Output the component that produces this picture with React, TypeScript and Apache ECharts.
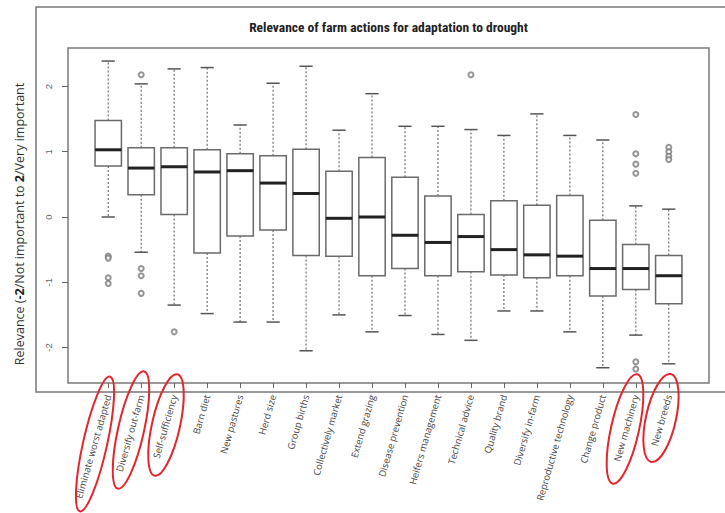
import React, { useEffect, useRef } from "react";
import * as echarts from "echarts";

const categories = [
  "Eliminate worst adapted",
  "Diversify out-farm",
  "Self-sufficiency",
  "Barn diet",
  "New pastures",
  "Herd size",
  "Group births",
  "Collectively market",
  "Extend grazing",
  "Disease prevention",
  "Heifers management",
  "Technical advice",
  "Quality brand",
  "Diversify in-farm",
  "Reproductive technology",
  "Change product",
  "New machinery",
  "New breeds",
];

const lowerWhisker = [0.0, -0.54, -1.35, -1.48, -1.61, -1.61, -2.05, -1.5, -1.76, -1.51, -1.8, -1.89, -1.44, -1.44, -1.76, -2.31, -1.81, -2.25];
const quartile1 = [0.78, 0.34, 0.04, -0.55, -0.29, -0.2, -0.59, -0.6, -0.9, -0.79, -0.9, -0.84, -0.89, -0.93, -0.9, -1.21, -1.11, -1.33];
const medians = [1.03, 0.75, 0.77, 0.69, 0.71, 0.52, 0.36, -0.02, 0.0, -0.28, -0.39, -0.3, -0.5, -0.58, -0.6, -0.79, -0.79, -0.9];
const quartile3 = [1.48, 1.06, 1.06, 1.03, 0.97, 0.94, 1.04, 0.7, 0.91, 0.61, 0.32, 0.04, 0.25, 0.18, 0.33, -0.05, -0.42, -0.59];
const upperWhisker = [2.39, 2.04, 2.27, 2.29, 1.41, 2.05, 2.31, 1.33, 1.89, 1.39, 1.39, 1.34, 1.25, 1.58, 1.25, 1.18, 0.17, 0.12];

// [category index, value]
const outliers: [number, number][] = [
  [0, -0.6], [0, -0.63], [0, -0.93], [0, -1.02],
  [1, 2.18], [1, -0.79], [1, -0.9], [1, -1.17],
  [2, -1.76],
  [11, 2.18],
  [16, 1.57], [16, 0.97], [16, 0.81], [16, 0.67], [16, -2.22], [16, -2.33],
  [17, 1.07], [17, 1.0], [17, 0.93], [17, 0.88],
];

const yTicks = [-2, -1, 0, 1, 2];
const highlighted = [0, 1, 2, 16, 17];

const TITLE = "Relevance of farm actions for adaptation to drought";
const Y_TITLE = "Relevance ({b|-2}/Not important to {b|2}/Very important";

export default function App() {
  const ref = useRef<HTMLDivElement>(null);

  useEffect(() => {
    if (!ref.current) return;
    const chart = echarts.init(ref.current, null, { renderer: "svg" });
    const boxData = categories.map((_, i) => [
      i,
      lowerWhisker[i],
      quartile1[i],
      medians[i],
      quartile3[i],
      upperWhisker[i],
    ]);
    const catIdx = categories.map((_, i) => i);

    const ellipseSpec: Record<number, { cx: number; cy: number; rx: number; ry: number }> = {
      0: { cx: 95, cy: 444, rx: 12, ry: 69 },
      1: { cx: 131, cy: 430, rx: 13, ry: 60 },
      2: { cx: 166, cy: 425, rx: 14, ry: 52 },
      16: { cx: 625, cy: 429, rx: 14, ry: 56 },
      17: { cx: 661, cy: 418, rx: 15, ry: 45 },
    };

    const font = "Open Sans, Liberation Sans, sans-serif";

    chart.setOption({
      animation: false,
      backgroundColor: "#ffffff",
      grid: {
        left: 68,
        top: 48,
        right: 16,
        bottom: 130,
        show: true,
        borderColor: "#7a7a7a",
        borderWidth: 1.5,
        backgroundColor: "transparent",
      },
      xAxis: {
        type: "value",
        min: -1.22,
        max: 18.22,
        splitLine: { show: false },
        axisLine: { show: false, onZero: false },
        axisTick: {
          show: true,
          length: 5,
          customValues: catIdx,
          lineStyle: { color: "#666", width: 1 },
        },
        axisLabel: {
          customValues: catIdx,
          formatter: (v: number) => categories[Math.round(v)] ?? "",
          rotate: 74,
          margin: 12,
          fontSize: 9.5,
          color: "#444",
          fontFamily: font,
        },
      },
      yAxis: {
        type: "value",
        min: -2.544,
        max: 2.59,
        splitLine: { show: false },
        axisLine: { show: false, onZero: false },
        axisTick: {
          show: true,
          length: 6,
          customValues: yTicks,
          lineStyle: { color: "#666", width: 1 },
        },
        axisLabel: {
          customValues: yTicks,
          rotate: 90,
          margin: 15,
          fontSize: 9.5,
          color: "#666",
          fontFamily: "Liberation Sans, Arial, sans-serif",
        },
      },
      graphic: [
        {
          type: "polyline",
          silent: true,
          shape: { points: [[725, 7], [36, 7], [36, 392], [725, 392]] },
          style: { fill: "none", stroke: "#777", lineWidth: 1.5 },
        },
        {
          type: "text",
          x: 388.5,
          y: 26.5,
          style: {
            text: TITLE,
            fill: "#222",
            fontSize: 13.5,
            fontWeight: "bold",
            fontFamily: "Liberation Sans Narrow, Roboto Condensed, Liberation Sans, sans-serif",
            textAlign: "center",
            textVerticalAlign: "middle",
          },
        },
        {
          type: "text",
          x: 19,
          y: 224,
          rotation: Math.PI / 2,
          style: {
            text: Y_TITLE,
            fill: "#333",
            fontSize: 12.5,
            fontFamily: font,
            textAlign: "center",
            textVerticalAlign: "middle",
            rich: {
              b: { fontSize: 12.5, fontWeight: "bold", fill: "#222", fontFamily: font },
            },
          },
        },
        ...highlighted.map((i) => {
          const e = ellipseSpec[i];
          return {
            type: "ellipse",
            silent: true,
            x: e.cx,
            y: e.cy,
            rotation: -0.22,
            shape: { cx: 0, cy: 0, rx: e.rx, ry: e.ry },
            style: { fill: "none", stroke: "#e3262e", lineWidth: 2 },
            z: 100,
          };
        }),
      ],
      series: [
        {
          type: "custom",
          data: boxData,
          encode: { x: 0, y: [1, 2, 3, 4, 5] },
          renderItem: (params: any, api: any) => {
            const i = api.value(0);
            const lo = api.coord([i, api.value(1)]);
            const b1 = api.coord([i, api.value(2)]);
            const md = api.coord([i, api.value(3)]);
            const b3 = api.coord([i, api.value(4)]);
            const hi = api.coord([i, api.value(5)]);
            const unit = api.size([1, 0])[0];
            const hw = unit * 0.4;
            const cw = unit * 0.2;
            const cx = lo[0];
            const dash = { stroke: "#6e6e6e", lineWidth: 1.2, lineDash: [2, 2], fill: null };
            const cap = { stroke: "#555", lineWidth: 1.5, fill: null };
            return {
              type: "group",
              children: [
                { type: "line", shape: { x1: cx, y1: b3[1], x2: cx, y2: hi[1] }, style: dash },
                { type: "line", shape: { x1: cx, y1: b1[1], x2: cx, y2: lo[1] }, style: dash },
                { type: "line", shape: { x1: cx - cw, y1: hi[1], x2: cx + cw, y2: hi[1] }, style: cap },
                { type: "line", shape: { x1: cx - cw, y1: lo[1], x2: cx + cw, y2: lo[1] }, style: cap },
                {
                  type: "rect",
                  shape: { x: cx - hw, y: b3[1], width: 2 * hw, height: b1[1] - b3[1] },
                  style: { fill: "#fff", stroke: "#6a6a6a", lineWidth: 1.5 },
                },
                {
                  type: "line",
                  shape: { x1: cx - hw, y1: md[1], x2: cx + hw, y2: md[1] },
                  style: { stroke: "#222", lineWidth: 3 },
                },
              ],
            };
          },
        },
        {
          type: "scatter",
          data: outliers,
          symbol: "emptyCircle",
          symbolSize: 5,
          itemStyle: { color: "#7a7a7a", borderWidth: 1 },
        },
      ],
    });

    return () => chart.dispose();
  }, []);

  return (
    <div
      ref={ref}
      style={{ position: "fixed", left: 0, top: 0, width: 725, height: 513, background: "#fff" }}
    />
  );
}
